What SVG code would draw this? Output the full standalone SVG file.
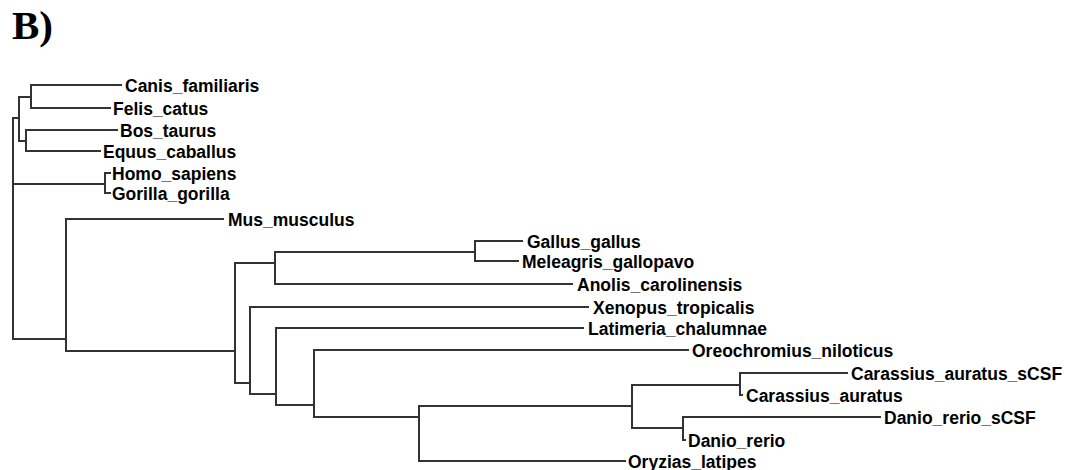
<svg xmlns="http://www.w3.org/2000/svg" width="1065" height="470" viewBox="0 0 1065 470">
<style>
.lbl{font-family:"Liberation Sans",Arial,sans-serif;font-weight:bold;font-size:17.5px;fill:#000}
.ttl{font-family:"Liberation Serif","Times New Roman",serif;font-weight:bold;font-size:41px;fill:#000}
.br{fill:none;stroke:#333;stroke-width:2;stroke-linecap:square}
</style>
<rect width="1065" height="470" fill="#fff"/>
<text class="ttl" x="12" y="39">B)</text>
<g id="connectors">
<path class="br" d="M13,118 V339"/>
<path class="br" d="M13,118 H19 V141 M19,97 V118"/>
<path class="br" d="M19,97 H31 M31,85 V108 M31,85 H121 M31,108 H110"/>
<path class="br" d="M19,141 H26 M26,130 V151 M26,130 H117 M26,151 H100"/>
<path class="br" d="M13,184 H105 M105,173 V193 M105,173 H110 M105,193 H110"/>
<path class="br" d="M13,339 H66 M66,219 V351 M66,219 H223"/>
<path class="br" d="M66,351 H235 M235,263 V383"/>
<path class="br" d="M235,263 H275 M275,252 V284 M275,284 H572"/>
<path class="br" d="M275,252 H475 M475,241 V261 M475,241 H522 M475,261 H518"/>
<path class="br" d="M235,383 H250 M250,307 V394 M250,307 H588"/>
<path class="br" d="M250,394 H276 M276,328 V405 M276,328 H583"/>
<path class="br" d="M276,405 H314 M314,350 V417 M314,350 H688"/>
<path class="br" d="M314,417 H419 M419,406 V461 M419,461 H625"/>
<path class="br" d="M419,406 H632 M632,385 V428"/>
<path class="br" d="M632,385 H740 M740,373 V395 M740,373 H847 M740,395 H742"/>
<path class="br" d="M632,428 H683 M683,417 V440 M683,417 H880 M683,440 H685"/>
</g>
<g id="canis"><text class="lbl" x="125" y="91.5">Canis_familiaris</text></g>
<g id="felis"><text class="lbl" x="113" y="114.5">Felis_catus</text></g>
<g id="bos"><text class="lbl" x="120" y="136.5">Bos_taurus</text></g>
<g id="equus"><text class="lbl" x="103" y="157.5">Equus_caballus</text></g>
<g id="homo"><text class="lbl" x="112" y="179.5">Homo_sapiens</text></g>
<g id="gorilla"><text class="lbl" x="112" y="199.5">Gorilla_gorilla</text></g>
<g id="mus"><text class="lbl" x="228" y="225.5">Mus_musculus</text></g>
<g id="gallus"><text class="lbl" x="527" y="247.5">Gallus_gallus</text></g>
<g id="meleagris"><text class="lbl" x="522" y="267.5">Meleagris_gallopavo</text></g>
<g id="anolis"><text class="lbl" x="577" y="290.5">Anolis_carolinensis</text></g>
<g id="xenopus"><text class="lbl" x="593" y="313.5">Xenopus_tropicalis</text></g>
<g id="latimeria"><text class="lbl" x="588" y="334.5">Latimeria_chalumnae</text></g>
<g id="oreochromius"><text class="lbl" x="692" y="356.5">Oreochromius_niloticus</text></g>
<g id="carassius_scsf"><text class="lbl" x="851" y="379.5">Carassius_auratus_sCSF</text></g>
<g id="carassius"><text class="lbl" x="746" y="401.5">Carassius_auratus</text></g>
<g id="danio_scsf"><text class="lbl" x="884" y="423.5">Danio_rerio_sCSF</text></g>
<g id="danio"><text class="lbl" x="688" y="446.5">Danio_rerio</text></g>
<g id="oryzias"><text class="lbl" x="628" y="467.5">Oryzias_latipes</text></g>
</svg>
